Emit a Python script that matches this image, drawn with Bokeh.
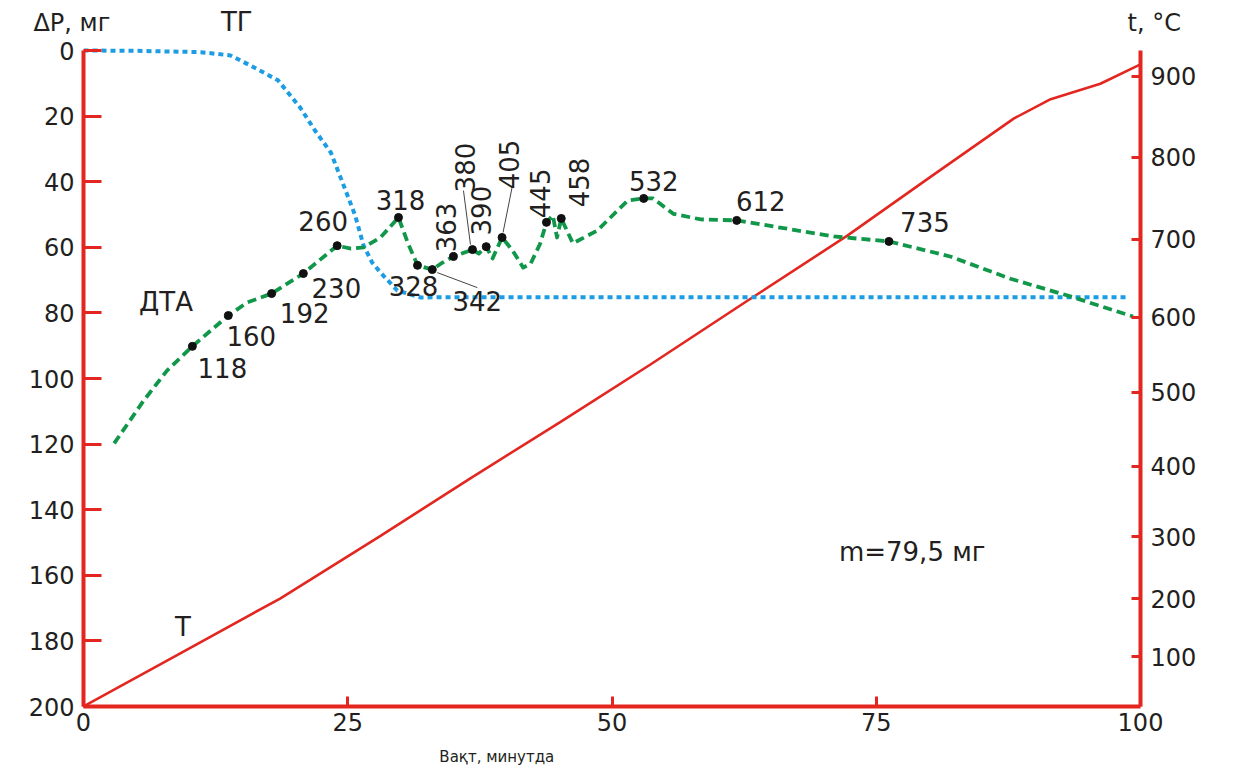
import numpy as np
from bokeh.plotting import figure
from bokeh.layouts import column
from bokeh.models import Range1d, LinearAxis, FixedTicker, Label
from bokeh.core.properties import value
from bokeh.embed import file_html
from bokeh.resources import INLINE

# ---------------- DATA ----------------
time_ticks = [0, 25, 50, 75, 100]
dp_ticks = [0, 20, 40, 60, 80, 100, 120, 140, 160, 180, 200]
temp_ticks = [100, 200, 300, 400, 500, 600, 700, 800, 900]

# TG curve (mass loss, mg)
tg_time = [0, 5, 11.1, 13.9, 15.8, 18.4, 20.5, 21.9, 23.4, 24.8, 25.7, 26.5, 27.3, 28.1,
           29.7, 31.9, 35.0, 98.6]
tg_dp = [0, 0.1, 0.5, 1.5, 4.6, 9.1, 17.4, 24.4, 31.1, 42.7, 50.3, 59.5, 64.6, 67.7,
         73.2, 75.3, 75.2, 75.2]

# DTA curve
dta_time = [2.9, 5.7, 7.9, 10.3, 13.7, 15.5, 17.8, 20.8, 24.0, 25.3, 26.5, 28.1, 29.8,
            30.7, 31.6, 33.0, 33.8, 35.0, 36.8, 37.4, 38.1, 38.7, 39.6, 40.6, 41.6, 42.3,
            43.2, 43.8, 44.4, 44.8, 45.2, 46.3, 48.6, 51.5, 53.0, 53.9, 55.8, 58.4, 61.8,
            71.0, 76.2, 82.0, 87.7, 93.1, 99.3]
dta_dp = [119.8, 106.7, 97.6, 90.2, 80.8, 76.8, 74.1, 68.0, 59.5, 60.4, 60.0, 57.0, 50.9,
          58.8, 65.5, 66.8, 65.0, 62.8, 60.7, 61.9, 59.8, 63.4, 57.0, 61.0, 66.2, 65.0,
          58.9, 52.4, 50.3, 57.0, 51.2, 58.8, 54.9, 45.7, 45.1, 45.1, 49.8, 51.5, 51.8,
          56.7, 58.2, 62.8, 69.6, 74.7, 81.1]

# DTA marked points (temperature labels, °C)
peak_labels = ["118", "160", "192", "230", "260", "318", "328", "342", "363", "380",
               "390", "405", "445", "458", "532", "612", "735"]
peak_time = [10.3, 13.7, 17.8, 20.8, 24.0, 29.8, 31.6, 33.0, 35.0, 36.8,
             38.1, 39.6, 43.8, 45.2, 53.0, 61.8, 76.2]
peak_dp = [90.2, 80.8, 74.1, 68.0, 59.5, 50.9, 65.5, 66.8, 62.8, 60.7,
           59.8, 57.0, 52.4, 51.2, 45.1, 51.8, 58.2]

# Temperature curve T (°C)
t_time = [0, 9.2, 18.6, 28.1, 36.6, 45.1, 53.6, 63.1, 72.3, 80.1, 88.0, 91.5, 96.2, 100]
t_temp = [14, 106, 200, 301, 383, 460, 537, 624, 705, 776, 848, 872, 891, 915]

# ---------------- AXIS / STYLE ----------------
# non-linear temperature scale of the right axis (fraction of the axis length per tick)
TEMP_AXIS_FRAC = [0.0762, 0.1646, 0.2591, 0.3659, 0.4787, 0.5930, 0.7119, 0.8369, 0.9604]


def temp_to_frac(t):
    t = np.asarray(t, dtype=float)
    tt = np.array(temp_ticks, dtype=float)
    ff = np.array(TEMP_AXIS_FRAC)
    out = np.interp(t, tt, ff)
    lo = t < tt[0]
    out[lo] = ff[0] + (t[lo] - tt[0]) * (ff[1] - ff[0]) / (tt[1] - tt[0])
    hi = t > tt[-1]
    out[hi] = ff[-1] + (t[hi] - tt[-1]) * (ff[-1] - ff[-2]) / (tt[-1] - tt[-2])
    return out


# label offsets (px) relative to the marked points
LABEL_DX = [30, 23, 33, 33, -14, 2, -4, 45, -7, -7, -5, 7, -6, 18, 10, 24, 36]
LABEL_DY = [22, 20, 19, 14, -25, -17, 21, 31, -29, -82, -36, -73, -29, -36, -17, -19, -19]
LABEL_ROT = [0, 0, 0, 0, 0, 0, 0, 0, 1, 1, 1, 1, 1, 1, 0, 0, 0]

FRAME_W = 1057
AXIS_H = 656          # pixel length of the 0..200 mg axis
EXTRA_TOP = 14        # frame area above the 0 mg tick
STRIP_H = 36          # header strip height
BORDER_L, BORDER_R, BORDER_B = 83, 90, 62
RED = "#e3261f"
TXT = "#231f20"
FONT = "DejaVu Sans"
px_x = FRAME_W / 100.0
px_y = AXIS_H / 200.0

# ---- main plot ----
p = figure(frame_width=FRAME_W, frame_height=AXIS_H + EXTRA_TOP,
           x_range=Range1d(0, 100), y_range=Range1d(200, -EXTRA_TOP / px_y),
           output_backend="svg", toolbar_location=None,
           min_border_left=BORDER_L, min_border_right=BORDER_R,
           min_border_top=0, min_border_bottom=BORDER_B)
p.grid.visible = False
p.outline_line_color = None
p.background_fill_color = "white"
p.border_fill_color = "white"

p.extra_y_ranges = {"temp": Range1d(0, (AXIS_H + EXTRA_TOP) / AXIS_H)}


def style_axis(ax, tick_in, standoff):
    ax.axis_line_color = RED
    ax.axis_line_width = 4
    ax.major_tick_line_color = RED
    ax.major_tick_line_width = 3
    ax.major_tick_in = tick_in
    ax.major_tick_out = 0
    ax.minor_tick_line_color = None
    ax.major_label_text_font = FONT
    ax.major_label_text_font_size = "24px"
    ax.major_label_text_color = TXT
    ax.major_label_standoff = standoff


xa = p.xaxis[0]
xa.ticker = FixedTicker(ticks=time_ticks)
style_axis(xa, 10, 6)

ya = p.yaxis[0]
ya.ticker = FixedTicker(ticks=dp_ticks)
ya.bounds = (0, 200)
style_axis(ya, 18, 9)

ra = LinearAxis(y_range_name="temp", ticker=FixedTicker(ticks=TEMP_AXIS_FRAC),
                major_label_overrides={f: str(t) for f, t in zip(TEMP_AXIS_FRAC, temp_ticks)},
                bounds=(0, 1))
style_axis(ra, 9, 10)
p.add_layout(ra, "right")

# curves
p.line(t_time, temp_to_frac(t_temp), y_range_name="temp", line_color=RED, line_width=2.6)
p.line(tg_time, tg_dp, line_color="#1b9ce3", line_width=4, line_dash="5 4")
p.line(dta_time, dta_dp, line_color="#11974a", line_width=3.8, line_dash="9 5",
       line_join="round")
p.scatter(peak_time, peak_dp, size=8, color="#111111")

# leader lines (px offsets from point -> converted through the scales)
lead_idx = [9, 11, 7]
lead_start = [(-2, -5), (1, -5), (5, 3)]
lead_end = [(-9, -59), (10, -50), (45, 18)]
p.segment(x0=[peak_time[i] + s[0] / px_x for i, s in zip(lead_idx, lead_start)],
          y0=[peak_dp[i] + s[1] / px_y for i, s in zip(lead_idx, lead_start)],
          x1=[peak_time[i] + e[0] / px_x for i, e in zip(lead_idx, lead_end)],
          y1=[peak_dp[i] + e[1] / px_y for i, e in zip(lead_idx, lead_end)],
          line_color="#444444", line_width=1)

# point labels
for k in range(len(peak_labels)):
    p.text(x=[peak_time[k]], y=[peak_dp[k]], text=[peak_labels[k]],
           x_offset=LABEL_DX[k], y_offset=LABEL_DY[k],
           angle=np.pi / 2 if LABEL_ROT[k] else 0,
           text_align="center", text_baseline="middle",
           text_font=value(FONT), text_font_size="26px", text_color=TXT)


def add_label(fig, x, y, txt, size="26px", place="center"):
    lab = Label(x=x, y=y, text=txt, text_align="center", text_baseline="middle",
                text_font=FONT, text_font_size=size, text_color=TXT)
    fig.add_layout(lab, place)


add_label(p, 7.8, 76.8, "ДТА")
add_label(p, 9.4, 175.9, "Т")
add_label(p, 78.4, 153.0, "m=79,5 мг")
add_label(p, 39.1, 215.5, "Вақт, минутда", size="15px", place="below")

# ---- header strip (same data coordinates as the main plot) ----
top = figure(frame_width=FRAME_W, frame_height=STRIP_H,
             x_range=Range1d(0, 100),
             y_range=Range1d(-EXTRA_TOP / px_y, -(EXTRA_TOP + STRIP_H) / px_y),
             x_axis_location=None, y_axis_location=None,
             output_backend="svg", toolbar_location=None,
             min_border_left=BORDER_L, min_border_right=BORDER_R,
             min_border_top=0, min_border_bottom=0)
top.grid.visible = False
top.outline_line_color = None
top.background_fill_color = "white"
top.border_fill_color = "white"
add_label(top, 14.5, -8.8, "ТГ")
add_label(top, -1.1, -8.5, "ΔP, мг", size="24px", place="left")
add_label(top, 101.3, -8.5, "t, °C", size="24px", place="right")

layout = column(top, p, spacing=0)
open("out.html", "w").write(file_html(layout, INLINE))
